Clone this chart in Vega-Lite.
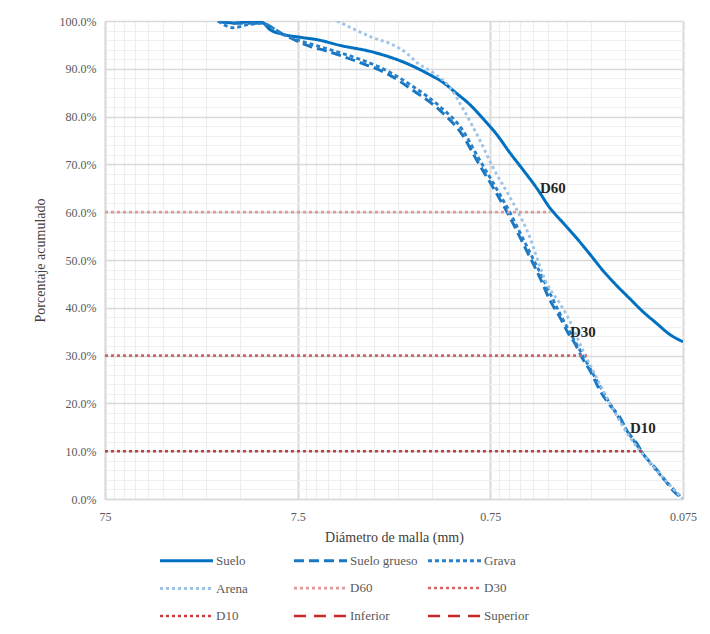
{
  "$schema": "https://vega.github.io/schema/vega-lite/v6.json",
  "width": 578,
  "height": 478,
  "autosize": {"type": "none"},
  "padding": {"left": 105, "top": 21, "right": 27, "bottom": 135},
  "background": "white",
  "config": {"view": {"stroke": null}, "font": "Liberation Serif"},
  "datasets": {
    "curvas": [
      {"serie": "Suelo", "d": 19.44, "pct": 100},
      {"serie": "Suelo", "d": 16.25, "pct": 99.6},
      {"serie": "Suelo", "d": 13.26, "pct": 99.8},
      {"serie": "Suelo", "d": 11.49, "pct": 99.7},
      {"serie": "Suelo", "d": 10.44, "pct": 98.2},
      {"serie": "Suelo", "d": 8.94, "pct": 97.2},
      {"serie": "Suelo", "d": 7.3, "pct": 96.6},
      {"serie": "Suelo", "d": 5.96, "pct": 96.1},
      {"serie": "Suelo", "d": 4.52, "pct": 94.9},
      {"serie": "Suelo", "d": 3.05, "pct": 93.5},
      {"serie": "Suelo", "d": 2.03, "pct": 91.1},
      {"serie": "Suelo", "d": 1.489, "pct": 88.4},
      {"serie": "Suelo", "d": 1.37, "pct": 87.6},
      {"serie": "Suelo", "d": 1.118, "pct": 84.8},
      {"serie": "Suelo", "d": 0.957, "pct": 82.5},
      {"serie": "Suelo", "d": 0.82, "pct": 79.6},
      {"serie": "Suelo", "d": 0.693, "pct": 76.2},
      {"serie": "Suelo", "d": 0.593, "pct": 72.4},
      {"serie": "Suelo", "d": 0.508, "pct": 68.9},
      {"serie": "Suelo", "d": 0.43, "pct": 65.0},
      {"serie": "Suelo", "d": 0.368, "pct": 60.9},
      {"serie": "Suelo", "d": 0.315, "pct": 57.8},
      {"serie": "Suelo", "d": 0.2665, "pct": 54.5},
      {"serie": "Suelo", "d": 0.2281, "pct": 51.2},
      {"serie": "Suelo", "d": 0.1953, "pct": 47.8},
      {"serie": "Suelo", "d": 0.1652, "pct": 44.6},
      {"serie": "Suelo", "d": 0.1415, "pct": 41.9},
      {"serie": "Suelo", "d": 0.1211, "pct": 39.2},
      {"serie": "Suelo", "d": 0.1025, "pct": 36.7},
      {"serie": "Suelo", "d": 0.0877, "pct": 34.4},
      {"serie": "Suelo", "d": 0.075, "pct": 32.9},

      {"serie": "Suelo grueso", "d": 19.44, "pct": 100},
      {"serie": "Suelo grueso", "d": 16.25, "pct": 99.5},
      {"serie": "Suelo grueso", "d": 11.49, "pct": 99.5},
      {"serie": "Suelo grueso", "d": 8.94, "pct": 97.2},
      {"serie": "Suelo grueso", "d": 8.22, "pct": 96.5},
      {"serie": "Suelo grueso", "d": 6.48, "pct": 94.7},
      {"serie": "Suelo grueso", "d": 5.29, "pct": 93.7},
      {"serie": "Suelo grueso", "d": 4.36, "pct": 92.6},
      {"serie": "Suelo grueso", "d": 3.56, "pct": 91.3},
      {"serie": "Suelo grueso", "d": 2.58, "pct": 89.0},
      {"serie": "Suelo grueso", "d": 1.891, "pct": 85.5},
      {"serie": "Suelo grueso", "d": 1.37, "pct": 81.3},
      {"serie": "Suelo grueso", "d": 1.041, "pct": 76.0},
      {"serie": "Suelo grueso", "d": 0.88, "pct": 70.8},
      {"serie": "Suelo grueso", "d": 0.727, "pct": 65.2},
      {"serie": "Suelo grueso", "d": 0.593, "pct": 58.9},
      {"serie": "Suelo grueso", "d": 0.508, "pct": 53.5},
      {"serie": "Suelo grueso", "d": 0.4146, "pct": 46.3},
      {"serie": "Suelo grueso", "d": 0.368, "pct": 41.6},
      {"serie": "Suelo grueso", "d": 0.3265, "pct": 38.0},
      {"serie": "Suelo grueso", "d": 0.2967, "pct": 34.8},
      {"serie": "Suelo grueso", "d": 0.2729, "pct": 32.5},
      {"serie": "Suelo grueso", "d": 0.251, "pct": 29.6},
      {"serie": "Suelo grueso", "d": 0.2281, "pct": 26.9},
      {"serie": "Suelo grueso", "d": 0.2024, "pct": 22.7},
      {"serie": "Suelo grueso", "d": 0.1796, "pct": 19.6},
      {"serie": "Suelo grueso", "d": 0.1594, "pct": 17.1},
      {"serie": "Suelo grueso", "d": 0.1466, "pct": 14.3},
      {"serie": "Suelo grueso", "d": 0.1301, "pct": 11.6},
      {"serie": "Suelo grueso", "d": 0.1211, "pct": 9.5},
      {"serie": "Suelo grueso", "d": 0.1049, "pct": 6.6},
      {"serie": "Suelo grueso", "d": 0.0954, "pct": 4.5},
      {"serie": "Suelo grueso", "d": 0.0846, "pct": 1.8},
      {"serie": "Suelo grueso", "d": 0.075, "pct": 0},

      {"serie": "Grava", "d": 19.44, "pct": 100},
      {"serie": "Grava", "d": 16.25, "pct": 98.6},
      {"serie": "Grava", "d": 13.26, "pct": 99.3},
      {"serie": "Grava", "d": 11.49, "pct": 99.5},
      {"serie": "Grava", "d": 8.94, "pct": 97.2},
      {"serie": "Grava", "d": 7.3, "pct": 95.9},
      {"serie": "Grava", "d": 5.29, "pct": 94.2},
      {"serie": "Grava", "d": 3.69, "pct": 92.2},
      {"serie": "Grava", "d": 2.58, "pct": 89.6},
      {"serie": "Grava", "d": 1.891, "pct": 86.3},
      {"serie": "Grava", "d": 1.37, "pct": 82.1},
      {"serie": "Grava", "d": 1.041, "pct": 77.1},
      {"serie": "Grava", "d": 0.88, "pct": 71.9},
      {"serie": "Grava", "d": 0.727, "pct": 66.2},
      {"serie": "Grava", "d": 0.593, "pct": 59.9},
      {"serie": "Grava", "d": 0.508, "pct": 54.5},
      {"serie": "Grava", "d": 0.4146, "pct": 47.4},
      {"serie": "Grava", "d": 0.3265, "pct": 38.8},
      {"serie": "Grava", "d": 0.248, "pct": 30.0},
      {"serie": "Grava", "d": 0.1796, "pct": 20.0},
      {"serie": "Grava", "d": 0.1211, "pct": 9.5},
      {"serie": "Grava", "d": 0.075, "pct": 0},

      {"serie": "Arena", "d": 4.69, "pct": 100},
      {"serie": "Arena", "d": 3.87, "pct": 98.4},
      {"serie": "Arena", "d": 3.05, "pct": 96.5},
      {"serie": "Arena", "d": 2.49, "pct": 95.3},
      {"serie": "Arena", "d": 2.03, "pct": 93.2},
      {"serie": "Arena", "d": 1.803, "pct": 91.3},
      {"serie": "Arena", "d": 1.489, "pct": 89.2},
      {"serie": "Arena", "d": 1.215, "pct": 86.1},
      {"serie": "Arena", "d": 1.041, "pct": 81.7},
      {"serie": "Arena", "d": 0.849, "pct": 75.0},
      {"serie": "Arena", "d": 0.727, "pct": 69.4},
      {"serie": "Arena", "d": 0.593, "pct": 63.1},
      {"serie": "Arena", "d": 0.484, "pct": 56.2},
      {"serie": "Arena", "d": 0.381, "pct": 45.0},
      {"serie": "Arena", "d": 0.3265, "pct": 40.9},
      {"serie": "Arena", "d": 0.2967, "pct": 38.0},
      {"serie": "Arena", "d": 0.248, "pct": 31.1},
      {"serie": "Arena", "d": 0.2201, "pct": 26.9},
      {"serie": "Arena", "d": 0.1796, "pct": 20.0},
      {"serie": "Arena", "d": 0.1415, "pct": 12.9},
      {"serie": "Arena", "d": 0.1114, "pct": 7.6},
      {"serie": "Arena", "d": 0.075, "pct": 0},

      {"serie": "D60", "d": 75, "pct": 60},
      {"serie": "D60", "d": 0.368, "pct": 60},
      {"serie": "D30", "d": 75, "pct": 30},
      {"serie": "D30", "d": 0.2365, "pct": 30},
      {"serie": "D10", "d": 75, "pct": 10},
      {"serie": "D10", "d": 0.1211, "pct": 10}
    ],
    "etiquetas": [
      {"t": "D60", "d": 0.4146, "pct": 65.0},
      {"t": "D30", "d": 0.2897, "pct": 35.0},
      {"t": "D10", "d": 0.1415, "pct": 14.8}
    ]
  },
  "encoding": {
    "x": {
      "field": "d",
      "type": "quantitative",
      "scale": {"type": "log", "domain": [0.075, 75], "reverse": true, "nice": false},
      "axis": {
        "title": "Diámetro de malla (mm)",
        "titleFont": "Liberation Serif",
        "titleFontSize": 14,
        "titleFontWeight": "normal",
        "titleColor": "#404040",
        "titlePadding": 8,
        "labelFont": "Liberation Serif",
        "labelFontSize": 12,
        "labelColor": "#595959",
        "labelPadding": 12,
        "labelFlush": false,
        "labelBound": false,
        "labelOverlap": false,
        "ticks": false,
        "domainColor": "#d9d9d9",
        "domainWidth": 1.5,
        "values": [75, 67.5, 60, 52.5, 45, 37.5, 30, 22.5, 15, 7.5, 6.75, 6, 5.25, 4.5, 3.75, 3, 2.25, 1.5, 0.75, 0.675, 0.6, 0.525, 0.45, 0.375, 0.3, 0.225, 0.15, 0.075],
        "labelExpr": "indexof([75, 7.5, 0.75, 0.075], datum.value) >= 0 ? toString(datum.value) : ''",
        "grid": true,
        "gridColor": {"condition": {"test": "indexof([75, 7.5, 0.75, 0.075], datum.value) >= 0", "value": "#d9d9d9"}, "value": "#eeeeee"},
        "gridWidth": {"condition": {"test": "indexof([75, 7.5, 0.75, 0.075], datum.value) >= 0", "value": 2}, "value": 1.2}
      }
    },
    "y": {
      "field": "pct",
      "type": "quantitative",
      "scale": {"domain": [0, 100], "nice": false},
      "axis": {
        "title": "Porcentaje acumulado",
        "titleFont": "Liberation Serif",
        "titleFontSize": 14,
        "titleFontWeight": "normal",
        "titleColor": "#404040",
        "titlePadding": 12,
        "labelFont": "Liberation Serif",
        "labelFontSize": 12,
        "labelColor": "#595959",
        "labelPadding": 9,
        "labelOverlap": false,
        "ticks": false,
        "domainColor": "#d9d9d9",
        "domainWidth": 1.5,
        "values": [0, 2, 4, 6, 8, 10, 12, 14, 16, 18, 20, 22, 24, 26, 28, 30, 32, 34, 36, 38, 40, 42, 44, 46, 48, 50, 52, 54, 56, 58, 60, 62, 64, 66, 68, 70, 72, 74, 76, 78, 80, 82, 84, 86, 88, 90, 92, 94, 96, 98, 100],
        "labelExpr": "datum.value % 10 == 0 ? format(datum.value, '.1f') + '%' : ''",
        "grid": true,
        "gridColor": {"condition": {"test": "datum.value % 10 == 0", "value": "#d9d9d9"}, "value": "#f0f0f0"},
        "gridWidth": {"condition": {"test": "datum.value % 10 == 0", "value": 1.5}, "value": 1}
      }
    }
  },
  "layer": [
    {
      "data": {"name": "curvas"},
      "mark": {"type": "line", "interpolate": "monotone", "clip": true},
      "encoding": {
        "order": {"field": "d", "sort": "descending"},
        "color": {
          "field": "serie",
          "type": "nominal",
          "scale": {
            "domain": ["Suelo", "Suelo grueso", "Grava", "Arena", "D60", "D30", "D10", "Inferior", "Superior"],
            "range": ["#0070C0", "#1a78c2", "#2a80c8", "#9DC3E6", "#E39A9A", "#D46464", "#C83C3C", "#C62828", "#C62828"]
          },
          "legend": {
            "orient": "none",
            "legendX": 69,
            "legendY": 527,
            "direction": "horizontal",
            "columns": 3,
            "gridAlign": "all",
            "title": null,
            "symbolType": "M-2.5,0H2.5",
            "symbolSize": 450,
            "labelFont": "Liberation Serif",
            "labelFontSize": 13,
            "labelColor": "#595959",
            "labelOffset": 17,
            "labelLimit": 200,
            "columnPadding": 4,
            "rowPadding": 8,
            "padding": 0
          }
        },
        "strokeDash": {
          "field": "serie",
          "type": "nominal",
          "scale": {
            "domain": ["Suelo", "Suelo grueso", "Grava", "Arena", "D60", "D30", "D10", "Inferior", "Superior"],
            "range": [[1, 0], [10, 5], [4, 3], [3, 3], [3, 3], [3, 3], [3, 3], [12, 8], [12, 8]]
          }
        },
        "strokeWidth": {
          "field": "serie",
          "type": "nominal",
          "scale": {
            "domain": ["Suelo", "Suelo grueso", "Grava", "Arena", "D60", "D30", "D10", "Inferior", "Superior"],
            "range": [3, 2.5, 2.5, 2, 2, 2, 2, 3, 3]
          }
        }
      }
    },
    {
      "data": {"name": "etiquetas"},
      "mark": {"type": "text", "align": "left", "baseline": "middle", "font": "Liberation Serif", "fontSize": 15, "fontWeight": "bold", "color": "#262626"},
      "encoding": {
        "text": {"field": "t", "type": "nominal"}
      }
    }
  ]
}
